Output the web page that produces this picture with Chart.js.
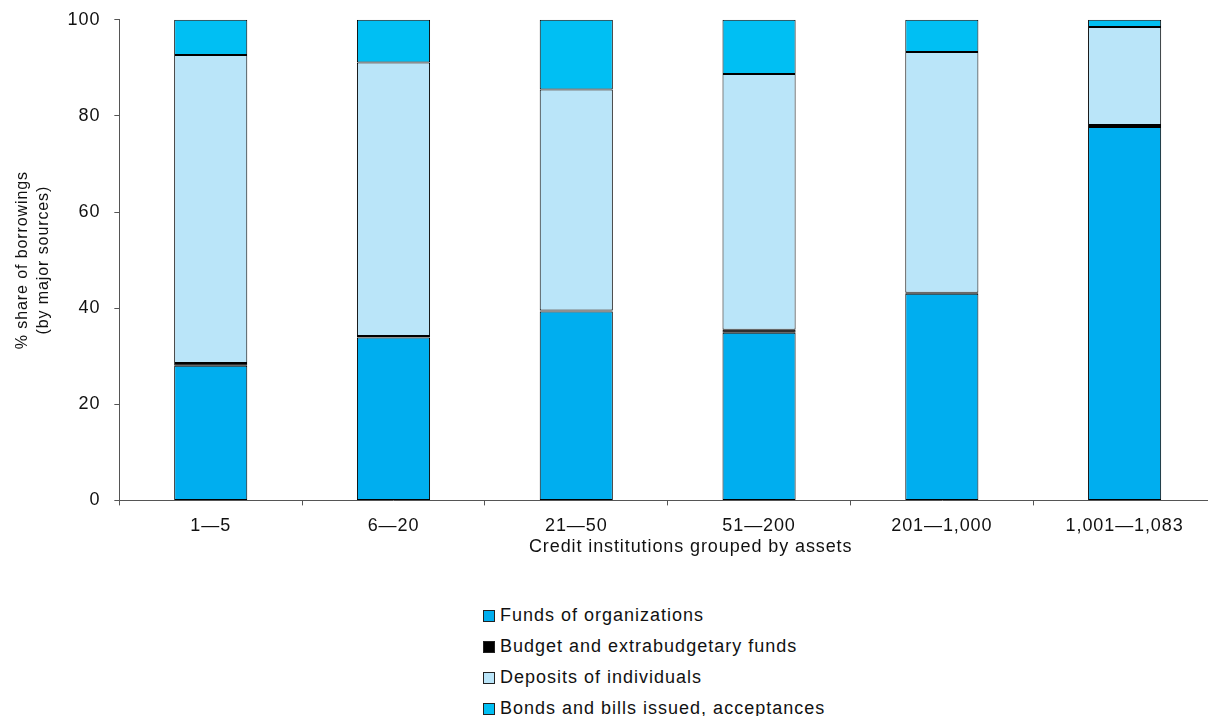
<!DOCTYPE html>
<html>
<head>
<meta charset="utf-8">
<script src="https://cdn.jsdelivr.net/npm/chart.js@4/dist/chart.umd.min.js"></script>
<style>
  html, body { margin: 0; padding: 0; background: #fff; overflow: hidden; }
  body { width: 1208px; height: 716px; position: relative; font-family: "Liberation Sans", Arial, sans-serif; }
  #wrap { position: absolute; left: 0; top: -5px; width: 1232px; height: 582px; }
  #legend { position: absolute; left: 483px; top: 600px; font-size: 18px; letter-spacing: 1px; color: #111; }
  #legend div { height: 31px; display: flex; align-items: center; }
  #legend span.box { display: inline-block; width: 10px; height: 10px; border: 1px solid #222; margin-right: 5px; }
</style>
</head>
<body>
<div id="wrap"><canvas id="chart"></canvas></div>
<div id="legend"></div>
<script>
const groups = ["1\u20145", "6\u201420", "21\u201450", "51\u2014200", "201\u20141,000", "1,001\u20141,083"];
const fundsOfOrganizations = [28.0, 33.9, 39.3, 34.9, 43.0, 77.7];
const budgetFunds = [0.6, 0.3, 0.2, 0.6, 0.2, 0.4];
const depositsOfIndividuals = [64.1, 56.9, 46.0, 53.2, 50.1, 20.4];
const bondsAndBills = [7.3, 8.9, 14.5, 11.3, 6.7, 1.5];
const yTicks = [0, 20, 40, 60, 80, 100];
const xTitle = "Credit institutions grouped by assets";
const yTitle = ["% share of borrowings", "(by major sources)"];

const font = "'Liberation Sans', Arial, sans-serif";

const datasets = [
  { label: "Funds of organizations", data: fundsOfOrganizations, backgroundColor: "#00aeef" },
  { label: "Budget and extrabudgetary funds", data: budgetFunds, backgroundColor: "#000000" },
  { label: "Deposits of individuals", data: depositsOfIndividuals, backgroundColor: "#bae5f9" },
  { label: "Bonds and bills issued, acceptances", data: bondsAndBills, backgroundColor: "#00bff3" }
].map(d => Object.assign(d, {
  borderColor: "#000",
  borderWidth: 1,
  borderSkipped: false,
  barPercentage: 0.4,
  categoryPercentage: 1.0
}));

// the source chart sets its text a little wider than the plain font
const wideText = {
  id: "wideText",
  beforeLayout(c) { c.ctx.letterSpacing = "0.9px"; },
  beforeDraw(c) { c.ctx.letterSpacing = "0.9px"; }
};

// x title sits a bit right of centre in the original
const xTitlePlugin = {
  id: "xTitle",
  afterDraw(c) {
    const { ctx, chartArea } = c;
    ctx.save();
    ctx.font = "18px " + font;
    ctx.fillStyle = "#111";
    ctx.textAlign = "center";
    ctx.textBaseline = "top";
    ctx.fillText(xTitle, (chartArea.left + chartArea.right) / 2 + 23, chartArea.bottom + 38);
    ctx.restore();
  }
};

const ctx = document.getElementById("chart").getContext("2d");
const chart = new Chart(ctx, {
  type: "bar",
  data: { labels: groups, datasets: datasets },
  plugins: [wideText, xTitlePlugin],
  options: {
    responsive: true,
    maintainAspectRatio: false,
    animation: false,
    layout: { padding: { top: 7, left: 0, right: 16, bottom: 30 } },
    plugins: { legend: { display: false }, tooltip: { enabled: false } },
    scales: {
      x: {
        stacked: true,
        grid: { drawOnChartArea: false, tickLength: 5, color: "#555" },
        border: { color: "#555", width: 1 },
        ticks: { color: "#111", font: { family: font, size: 18 }, padding: 10, maxRotation: 0 }
      },
      y: {
        stacked: true,
        min: 0,
        max: 100,
        afterBuildTicks: (axis) => { axis.ticks = yTicks.map(v => ({ value: v })); },
        grid: { drawOnChartArea: false, tickLength: 5, color: "#555" },
        border: { color: "#555", width: 1 },
        ticks: { color: "#111", font: { family: font, size: 18 }, padding: 14 },
        title: {
          display: true,
          text: yTitle,
          color: "#111",
          font: { family: font, size: 16, lineHeight: 1.3 },
          padding: { top: 12, bottom: 0 }
        }
      }
    }
  }
});

const legendEl = document.getElementById("legend");
chart.data.datasets.forEach(ds => {
  const row = document.createElement("div");
  const box = document.createElement("span");
  box.className = "box";
  box.style.background = ds.backgroundColor;
  row.appendChild(box);
  row.appendChild(document.createTextNode(ds.label));
  legendEl.appendChild(row);
});
</script>
</body>
</html>
